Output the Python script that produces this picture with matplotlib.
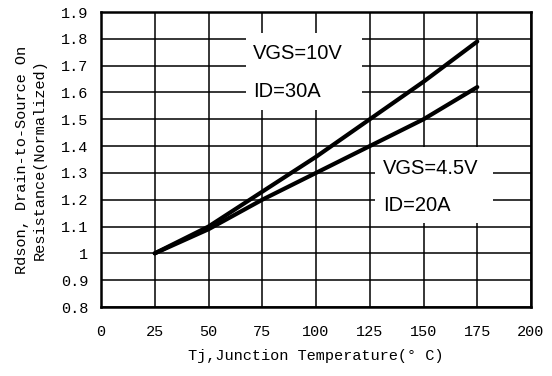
import matplotlib
matplotlib.use("Agg")
import matplotlib.pyplot as plt
from matplotlib.patches import Rectangle

tj = [25, 50, 75, 100, 125, 150, 175]
rdson_10v = [1.00, 1.10, 1.23, 1.36, 1.50, 1.64, 1.79]
rdson_45v = [1.00, 1.09, 1.20, 1.30, 1.40, 1.50, 1.62]

x_ticks = [0, 25, 50, 75, 100, 125, 150, 175, 200]
y_ticks = [0.8, 0.9, 1.0, 1.1, 1.2, 1.3, 1.4, 1.5, 1.6, 1.7, 1.8, 1.9]
y_tick_labels = ["0.8", "0.9", "1", "1.1", "1.2", "1.3", "1.4", "1.5", "1.6", "1.7", "1.8", "1.9"]

mono = "Liberation Mono"
sans = "Liberation Sans"

fig = plt.figure(figsize=(5.52, 3.76), dpi=100)
ax = fig.add_axes([101/552, 1-307/376, 430/552, 295/376])

ax.set_xlim(0, 200)
ax.set_ylim(0.8, 1.9)
ax.set_xticks(x_ticks)
ax.set_yticks(y_ticks)
ax.set_xticklabels([str(v) for v in x_ticks], fontfamily=mono, fontsize=11)
ax.set_yticklabels(y_tick_labels, fontfamily=mono, fontsize=11)
ax.tick_params(axis="x", length=0, pad=13)
ax.tick_params(axis="y", length=0, pad=9)
ax.grid(True, color="black", linewidth=1.1, zorder=1)
ax.set_axisbelow(True)
for s in ax.spines.values():
    s.set_linewidth(1.8)
    s.set_zorder(5)

# white label boxes covering the grid
ax.add_patch(Rectangle((67.5, 1.535), 54.0, 0.287, facecolor="white", edgecolor="none", zorder=2))
ax.add_patch(Rectangle((127.4, 1.113), 54.9, 0.284, facecolor="white", edgecolor="none", zorder=2))

ax.plot(tj, rdson_10v, color="black", linewidth=3, zorder=4, solid_capstyle="round")
ax.plot(tj, rdson_45v, color="black", linewidth=3, zorder=4, solid_capstyle="round")

ax.text(70.7, 1.747, "VGS=10V", fontfamily=sans, fontsize=14.5, va="center", ha="left", zorder=3)
ax.text(70.7, 1.605, "ID=30A", fontfamily=sans, fontsize=14.5, va="center", ha="left", zorder=3)
ax.text(131.2, 1.318, "VGS=4.5V", fontfamily=sans, fontsize=14.5, va="center", ha="left", zorder=3)
ax.text(131.2, 1.180, "ID=20A", fontfamily=sans, fontsize=14.5, va="center", ha="left", zorder=3)

ax.set_xlabel("Tj,Junction Temperature(° C)", fontfamily=mono, fontsize=11, labelpad=7)
ax.set_ylabel("Rdson, Drain-to-Source On\nResistance(Normalized)", fontfamily=mono, fontsize=11, labelpad=10, linespacing=1.35)

fig.savefig("out.png", dpi=100)
